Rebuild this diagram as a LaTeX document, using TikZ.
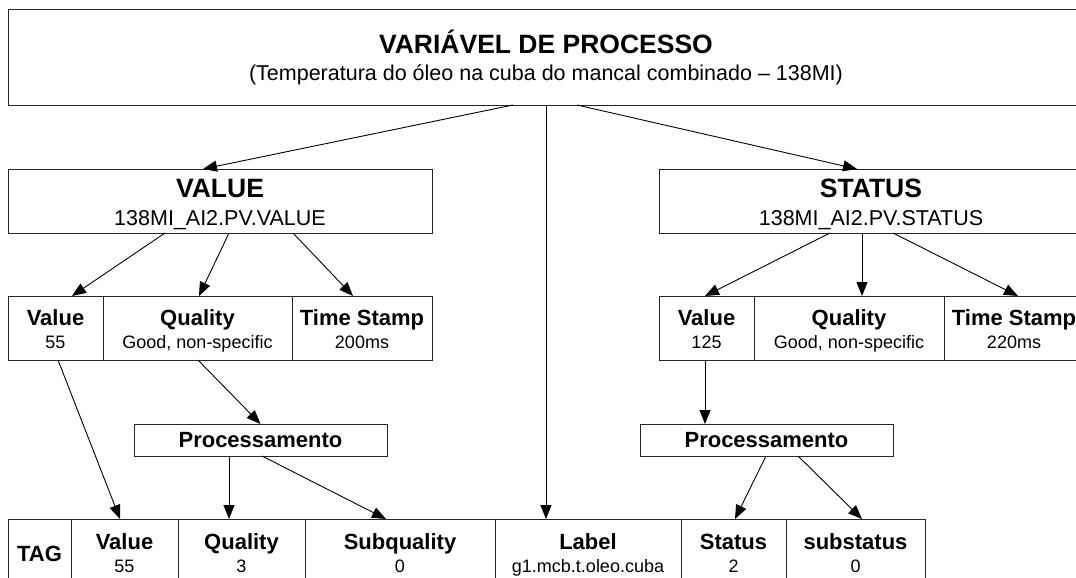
\documentclass[tikz,border=0pt]{standalone}
\usepackage{fontspec}
\setmainfont{Liberation Sans}
\usepackage{tikz}
\usetikzlibrary{positioning, calc}
\usetikzlibrary{arrows.meta}
\tikzstyle{headbox}=[draw=black!85,line width=1pt,align=center,outer sep=0pt,inner sep=0pt]
\tikzstyle{cellbox}=[draw=black!85,line width=1pt,align=center,outer sep=0pt,inner sep=0pt,text height=45pt,text depth=4pt,font=\fontsize{18}{23}\selectfont]
\tikzstyle{procbox}=[draw=black!85,line width=1pt,outer sep=0pt,inner sep=0pt,minimum width=253pt,minimum height=32pt,font=\bfseries\fontsize{22}{24}\selectfont]
\tikzstyle{arrowpath} = [-{Triangle[length=14pt,width=11pt]},line width=0.9pt]
\newcommand{\celltxt}[2]{{\bfseries\fontsize{22}{23}\selectfont #1}\\#2}

\begin{document}
\begin{tikzpicture}[x=1pt,y=-1pt]
        \useasboundingbox[fill=white] (0,0) rectangle (1076,578);
        % topo
        \node[headbox,minimum width=1076pt,minimum height=95pt,font=\fontsize{21.5}{27.5}\selectfont] (proc) at (546,57.5)
            {{\bfseries\fontsize{26.5}{27.5}\selectfont VARIÁVEL DE PROCESSO}\\(Temperatura do óleo na cuba do mancal combinado \textendash{} 138MI)};
        \node[headbox,minimum width=424pt,minimum height=64pt,text height=52pt,text depth=4pt,font=\fontsize{21.5}{28}\selectfont] (value) at (220,201)
            {{\bfseries\fontsize{26.5}{28}\selectfont VALUE}\\138MI\_AI2.PV.VALUE};
        \node[headbox,minimum width=424pt,minimum height=64pt,text height=52pt,text depth=4pt,font=\fontsize{21.5}{28}\selectfont] (status) at (871,201)
            {{\bfseries\fontsize{26.5}{28}\selectfont STATUS}\\138MI\_AI2.PV.STATUS};

        % campos do VALUE
        \node[cellbox,minimum width=95pt,minimum height=64pt] (vval) at (55.5,328) {\celltxt{Value}{55}};
        \node[cellbox,minimum width=189pt,minimum height=64pt,right=0pt of vval] (vqual) {\celltxt{Quality}{Good, non-specific}};
        \node[cellbox,minimum width=140pt,minimum height=64pt,right=0pt of vqual] (vtime) {\celltxt{Time Stamp}{200ms}};

        % campos do STATUS
        \node[cellbox,minimum width=95pt,minimum height=64pt] (sval) at (706.5,328) {\celltxt{Value}{125}};
        \node[cellbox,minimum width=190pt,minimum height=64pt,right=0pt of sval] (squal) {\celltxt{Quality}{Good, non-specific}};
        \node[cellbox,minimum width=140pt,minimum height=64pt,right=0pt of squal] (stime) {\celltxt{Time Stamp}{220ms}};

        \node[procbox] (procL) at (260.5,440) {Processamento};
        \node[procbox] (procR) at (766.5,440) {Processamento};

        % linha do banco de dados
        \node[cellbox,text height=16pt,text depth=0pt,minimum width=63pt,minimum height=68pt,font=\bfseries\fontsize{22}{23}\selectfont] (tag) at (39.5,553) {TAG};
        \node[cellbox,text height=42pt,minimum width=107pt,minimum height=68pt,right=0pt of tag] (bval) {\celltxt{Value}{55}};
        \node[cellbox,text height=42pt,minimum width=127pt,minimum height=68pt,right=0pt of bval] (bqual) {\celltxt{Quality}{3}};
        \node[cellbox,text height=42pt,minimum width=190pt,minimum height=68pt,right=0pt of bqual] (bsubq) {\celltxt{Subquality}{0}};
        \node[cellbox,text height=42pt,minimum width=186pt,minimum height=68pt,right=0pt of bsubq] (blabel) {\celltxt{Label}{g1.mcb.t.oleo.cuba}};
        \node[cellbox,text height=42pt,minimum width=105pt,minimum height=68pt,right=0pt of blabel] (bstat) {\celltxt{Status}{2}};
        \node[cellbox,text height=42pt,minimum width=139pt,minimum height=68pt,right=0pt of bstat] (bsubs) {\celltxt{substatus}{0}};

        \path[arrowpath]
            ([xshift=-33pt]proc.south) edge ([xshift=-17pt]value.north)
            (proc.south) edge (proc.south |- blabel.north)
            ([xshift=31pt]proc.south) edge ([xshift=-14pt]status.north)
            ([xshift=-55pt]value.south) edge ([xshift=16.5pt]vval.north)
            ([xshift=9pt]value.south) edge ([xshift=1.5pt]vqual.north)
            ([xshift=73pt]value.south) edge ([xshift=-9pt]vtime.north)
            ([xshift=-41pt]status.south) edge ([xshift=-1.5pt]sval.north)
            ([xshift=-9pt]status.south) edge ([xshift=13pt]squal.north)
            ([xshift=22pt]status.south) edge ([xshift=4pt]stime.north);

        \path[arrowpath]
            ([xshift=2.5pt]vval.south) edge ([xshift=-4.5pt]bval.north)
            ([xshift=0.5pt]vqual.south) edge (procL.north)
            ([xshift=-31.5pt]procL.south) edge ([xshift=-12.5pt]bqual.north)
            ([xshift=1.5pt]procL.south) edge ([xshift=-14pt]bsubq.north)
            ([xshift=-1.5pt]sval.south) edge ([xshift=-61.5pt]procR.north)
            ([xshift=-0.5pt]procR.south) edge ([xshift=1.5pt]bstat.north)
            ([xshift=31.5pt]procR.south) edge ([xshift=6.5pt]bsubs.north);
    \end{tikzpicture}
\end{document}
